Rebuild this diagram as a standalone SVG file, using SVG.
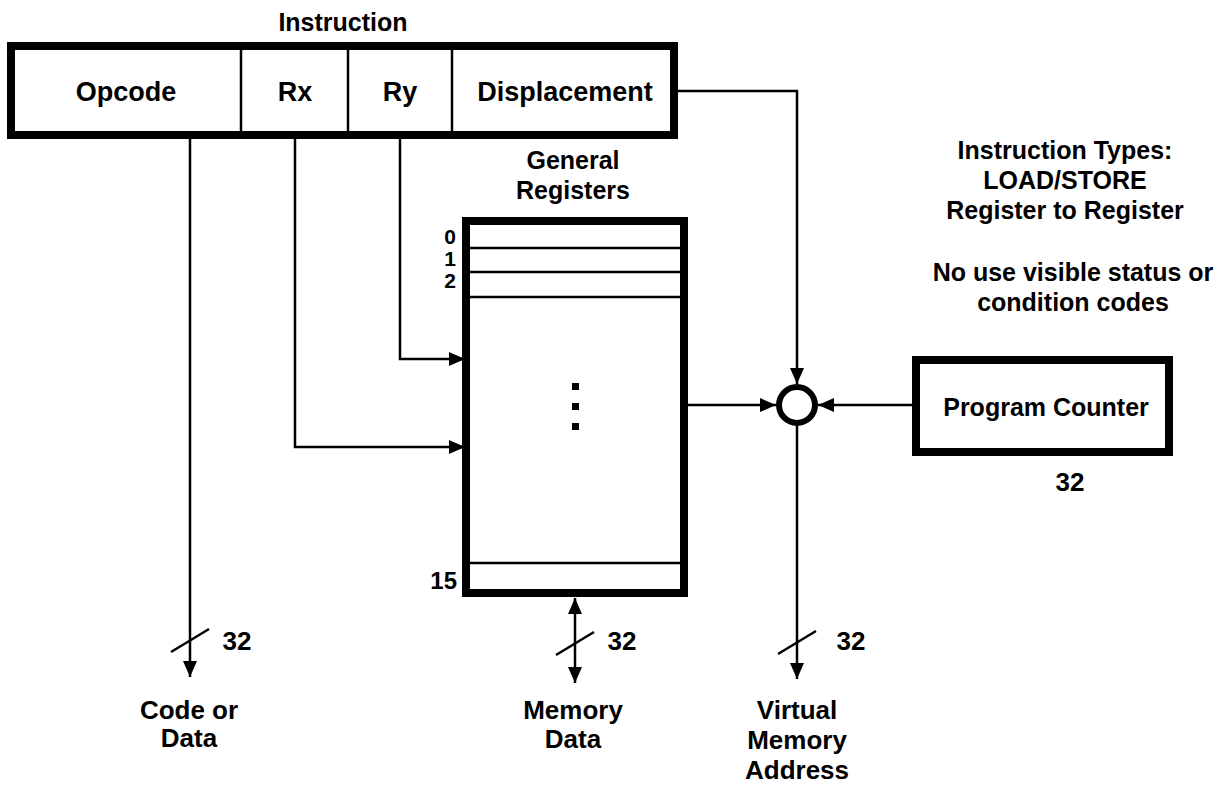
<svg xmlns="http://www.w3.org/2000/svg" width="1218" height="787" viewBox="0 0 1218 787">
  <style>
    .t { font-family: "Liberation Sans", Arial, sans-serif; font-weight: bold; font-size: 25px; fill: #000; text-anchor: middle; }
    .lg { font-size: 27px; }
    .md { font-size: 26px; }
    .num { font-size: 21px; text-anchor: end; }
    .num15 { font-size: 24px; text-anchor: end; }
    .box { fill: #fff; stroke: #000; stroke-width: 8; }
    .thin { stroke: #000; stroke-width: 2.5; fill: none; }
    .wire { stroke: #000; stroke-width: 2.5; fill: none; }
  </style>
  <defs>
    <marker id="arr" markerUnits="userSpaceOnUse" markerWidth="18" markerHeight="16" refX="16" refY="7" orient="auto">
      <path d="M0,0 L16,7 L0,14 Z" fill="#000"/>
    </marker>
    <marker id="arrStart" markerUnits="userSpaceOnUse" markerWidth="18" markerHeight="16" refX="0" refY="7" orient="auto">
      <path d="M16,0 L0,7 L16,14 Z" fill="#000"/>
    </marker>
  </defs>
  <rect width="1218" height="787" fill="#fff"/>

  <!-- Instruction format -->
  <g id="instruction">
    <text class="t" x="343" y="31">Instruction</text>
    <rect class="box" x="11" y="46" width="663" height="89"/>
    <line class="thin" x1="241" y1="50" x2="241" y2="131"/>
    <line class="thin" x1="348" y1="50" x2="348" y2="131"/>
    <line class="thin" x1="452" y1="50" x2="452" y2="131"/>
    <text class="t lg" x="126" y="101">Opcode</text>
    <text class="t lg" x="295" y="101">Rx</text>
    <text class="t lg" x="400" y="101">Ry</text>
    <text class="t lg" x="565" y="101">Displacement</text>
  </g>

  <!-- General register file -->
  <g id="registers">
    <text class="t" x="573" y="169">General</text>
    <text class="t" x="573" y="199">Registers</text>
    <rect class="box" x="466" y="221" width="218" height="372"/>
    <line class="thin" x1="470" y1="248" x2="680" y2="248"/>
    <line class="thin" x1="470" y1="272" x2="680" y2="272"/>
    <line class="thin" x1="470" y1="297" x2="680" y2="297"/>
    <line class="thin" x1="470" y1="563" x2="680" y2="563"/>
    <text class="t num" x="456" y="244">0</text>
    <text class="t num" x="456" y="266">1</text>
    <text class="t num" x="456" y="288">2</text>
    <text class="t num15" x="457" y="589">15</text>
    <rect x="572" y="383" width="7" height="7" fill="#000"/>
    <rect x="572" y="403" width="7" height="7" fill="#000"/>
    <rect x="572" y="423" width="7" height="7" fill="#000"/>
  </g>

  <!-- Address adder -->
  <g id="adder">
    <circle cx="797" cy="405" r="18" fill="#fff" stroke="#000" stroke-width="6"/>
  </g>

  <!-- Program counter -->
  <g id="program-counter">
    <rect class="box" x="916" y="360" width="253" height="92"/>
    <text class="t" x="1046" y="416">Program Counter</text>
    <text class="t md" x="1070" y="491">32</text>
  </g>

  <!-- Notes -->
  <g id="notes">
    <text class="t" x="1065" y="159">Instruction Types:</text>
    <text class="t" x="1065" y="189">LOAD/STORE</text>
    <text class="t" x="1065" y="219">Register to Register</text>
    <text class="t" x="1073" y="281">No use visible status or</text>
    <text class="t" x="1073" y="311">condition codes</text>
  </g>

  <!-- Bus destinations -->
  <g id="code-or-data">
    <text class="t md" x="189" y="719">Code or</text>
    <text class="t md" x="189" y="747">Data</text>
  </g>
  <g id="memory-data">
    <text class="t md" x="573" y="719">Memory</text>
    <text class="t md" x="573" y="748">Data</text>
  </g>
  <g id="virtual-address">
    <text class="t md" x="797" y="719">Virtual</text>
    <text class="t md" x="797" y="749">Memory</text>
    <text class="t md" x="797" y="779">Address</text>
  </g>

  <!-- Connectors -->
  <g id="connectors">
    <path class="wire" d="M678,91 H797 V384" marker-end="url(#arr)"/>
    <path class="wire" d="M687,405 H776" marker-end="url(#arr)"/>
    <path class="wire" d="M912,405 H818" marker-end="url(#arr)"/>
    <path class="wire" d="M797,426 V679" marker-end="url(#arr)"/>
    <path class="wire" d="M190,139 V677" marker-end="url(#arr)"/>
    <path class="wire" d="M295,139 V447 H465" marker-end="url(#arr)"/>
    <path class="wire" d="M400,139 V359 H465" marker-end="url(#arr)"/>
    <path class="wire" d="M575,598 V683" marker-start="url(#arrStart)" marker-end="url(#arr)"/>
    <!-- bus width ticks -->
    <line class="wire" x1="171" y1="652" x2="209" y2="629"/>
    <line class="wire" x1="556" y1="655" x2="594" y2="632"/>
    <line class="wire" x1="778" y1="654" x2="816" y2="631"/>
    <text class="t md" x="237" y="650">32</text>
    <text class="t md" x="622" y="650">32</text>
    <text class="t md" x="851" y="650">32</text>
  </g>
</svg>
